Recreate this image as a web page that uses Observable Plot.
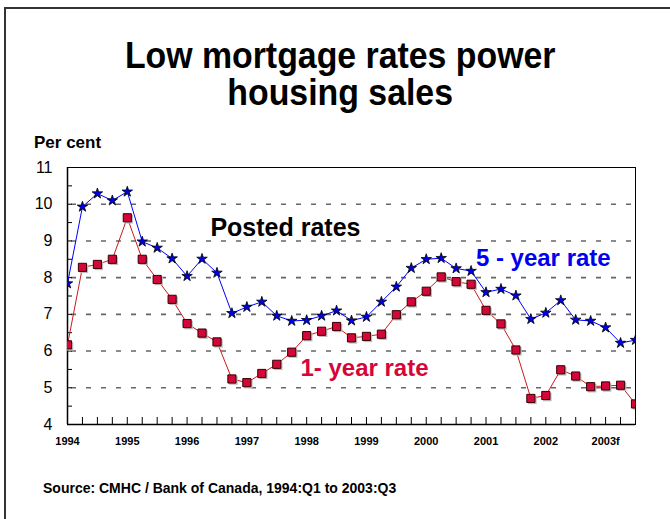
<!DOCTYPE html>
<html>
<head>
<meta charset="utf-8">
<script src="https://cdn.jsdelivr.net/npm/d3@7"></script>
<script src="https://cdn.jsdelivr.net/npm/@observablehq/plot@0.6"></script>
<style>
  html, body { margin: 0; padding: 0; background: #fff; }
  #wrap { position: relative; width: 670px; height: 519px; overflow: hidden; font-family: "Liberation Sans", Arial, sans-serif; }
  #border { position: absolute; left: 4px; top: 7px; width: 700px; height: 600px; border-top: 2.5px solid #333; border-left: 2.5px solid #333; }
  #title { position: absolute; left: 0; width: 680px; top: 37px; text-align: center; font-weight: bold; font-size: 36px; line-height: 37px; color: #000; transform: scaleX(0.94); transform-origin: 343px 0; }
  #unit { position: absolute; left: 34px; top: 133px; font-weight: bold; font-size: 17px; color: #000; }
  #source { position: absolute; left: 43px; top: 480px; font-weight: bold; font-size: 14px; color: #000; }
  #chart { position: absolute; left: 0; top: 0; }
</style>
</head>
<body>
<div id="wrap">
  <div id="border"></div>
  <div id="chart"></div>
  <div id="title">Low mortgage rates power<br>housing sales</div>
  <div id="unit">Per cent</div>
  <div id="source">Source: CMHC / Bank of Canada, 1994:Q1 to 2003:Q3</div>
</div>
<script>
// Quarterly posted rates, 1994:Q1 to 2003:Q3
const fiveYear = [7.84, 9.93, 10.29, 10.10, 10.34, 8.98, 8.81, 8.52, 8.04, 8.51, 8.13, 7.03, 7.20, 7.34, 6.96, 6.82, 6.84, 6.96, 7.10, 6.83, 6.93, 7.34, 7.75, 8.26, 8.50, 8.53, 8.25, 8.18, 7.60, 7.69, 7.51, 6.87, 7.04, 7.38, 6.85, 6.82, 6.64, 6.22, 6.30];
const oneYear = [6.17, 8.28, 8.36, 8.50, 9.63, 8.50, 7.95, 7.41, 6.75, 6.49, 6.25, 5.24, 5.14, 5.39, 5.64, 5.97, 6.42, 6.54, 6.67, 6.36, 6.40, 6.46, 6.99, 7.34, 7.63, 8.02, 7.89, 7.82, 7.11, 6.74, 6.03, 4.71, 4.79, 5.49, 5.32, 5.03, 5.05, 5.07, 4.56];
const yearLabels = ["1994", "1995", "1996", "1997", "1998", "1999", "2000", "2001", "2002", "2003f"];
const yTickLabels = [4, 5, 6, 7, 8, 9, 10, 11];
const gridValues = [5, 6, 7, 8, 9, 10];
const annotations = [
  {text: "Posted rates", q: 14.58, v: 9.35, color: "#000000", size: 25},
  {text: "5 - year rate", q: 31.83, v: 8.52, color: "#0000ee", size: 24},
  {text: "1- year rate", q: 19.87, v: 5.53, color: "#d4063a", size: 24}
];

const quarters = d3.range(fiveYear.length);
const five = quarters.map(i => ({q: i, v: fiveYear[i]}));
const one = quarters.map(i => ({q: i, v: oneYear[i]}));
const yearTicks = yearLabels.map((_, i) => i * 4);

const plot = Plot.plot({
  width: 670,
  height: 519,
  marginTop: 167,
  marginLeft: 67,
  marginRight: 35,
  marginBottom: 95,
  style: {fontFamily: "'Liberation Sans', Arial, sans-serif", background: "transparent", overflow: "visible"},
  x: {domain: [0, quarters.length - 1], label: null},
  y: {domain: [4, 11], label: null},
  marks: [
    Plot.gridY(gridValues, {stroke: "#666", strokeOpacity: 1, strokeWidth: 1.6, strokeDasharray: "5,10", strokeDashoffset: -4}),
    Plot.frame({stroke: "#000", strokeWidth: 1}),
    Plot.axisY(d3.range(4, 11.01, 0.5), {anchor: "left", tickSize: -5, tickFormat: () => "", stroke: "#000", label: null}),
    Plot.axisY(yTickLabels, {anchor: "left", tickSize: 0, tickPadding: 15, fontSize: 16, fill: "#000", label: null}),
    Plot.axisX(quarters, {anchor: "bottom", tickSize: -7, tickFormat: () => "", stroke: "#000", label: null}),
    Plot.axisX(yearTicks, {anchor: "bottom", tickSize: 0, tickPadding: 13, tickFormat: (d, i) => yearLabels[i], fontSize: 11, fontWeight: "bold", fill: "#000", label: null}),
    Plot.ruleY([4], {stroke: "#000", strokeWidth: 1.5}),
    Plot.ruleX([0], {stroke: "#000", strokeWidth: 1.5}),
    Plot.line(one, {x: "q", y: "v", stroke: "#cc1a1a", strokeWidth: 1}),
    Plot.dot(one, {x: "q", y: "v", symbol: "square", r: 4.8, fill: "#bbbbbb", stroke: "none", dx: 1.5, dy: 1.5, clip: true}),
    Plot.dot(one, {x: "q", y: "v", symbol: "square", r: 4.6, fill: "#d4063a", stroke: "#330000", strokeWidth: 1, clip: true}),
    Plot.line(five, {x: "q", y: "v", stroke: "#0000ff", strokeWidth: 1}),
    Plot.dot(five, {x: "q", y: "v", symbol: "star", r: 3.3, fill: "#0000e0", stroke: "#000", strokeWidth: 0.8, clip: true}),
    Plot.text(annotations, {x: "q", y: "v", text: "text", fill: "color", fontSize: d => d.size, fontWeight: "bold"})
  ]
});
document.getElementById("chart").appendChild(plot);
</script>
</body>
</html>
